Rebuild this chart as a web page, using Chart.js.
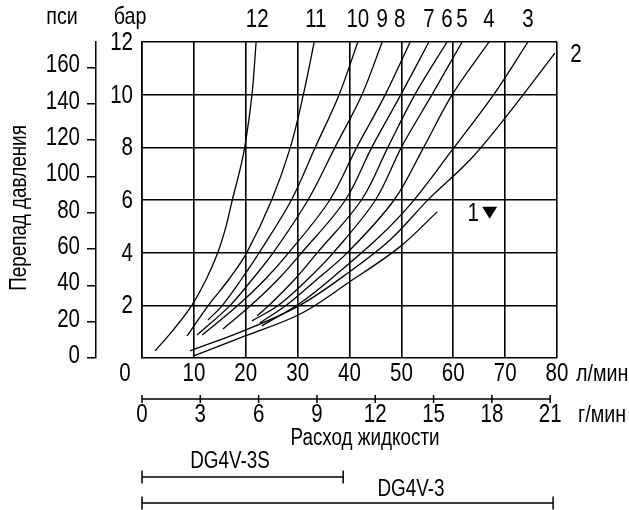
<!DOCTYPE html>
<html>
<head>
<meta charset="utf-8">
<script src="https://cdn.jsdelivr.net/npm/chart.js@4.4.1/dist/chart.umd.min.js"></script>
<style>
html,body{margin:0;padding:0;background:#fff}
#wrap{position:relative;width:629px;height:510px}
</style>
</head>
<body>
<div id="wrap"><canvas id="chart"></canvas></div>
<script>
// tick labels
const lpmTicks=[0,10,20,30,40,50,60,70,80];
const barTicks=[0,2,4,6,8,10,12];
const psiTicks=[0,20,40,60,80,100,120,140,160];
const gpmTicks=[0,3,6,9,12,15,18,21];
const gpmAxisMax=21.35;      // value of the lower flow scale under 80 l/min
const psiPerBar=14.5038;

// pressure drop curves: flow (l/min) and pressure drop (bar)
const c1Flow=[10.0,19.9,30.5,39.7,49.7,56.9];
const c1Bar =[0.08,0.84,1.67,2.85,4.22,5.55];
const c2Flow=[9.25,19.9,30.5,39.7,47.8,55.5,63.2,70.0,79.6];
const c2Bar =[0.27,1.06,2.01,3.23,4.48,6.08,7.52,9.12,11.58];
const c3Flow=[23.1,30.8,38.2,45.9,52.1,59.8,67.9,74.4];
const c3Bar =[1.22,2.13,3.30,4.63,5.92,7.90,10.03,12.0];
const c4Flow=[22.7,27.8,33.8,39.6,48.6,54.3,59.8,66.9];
const c4Bar =[1.33,2,3,4,6,8,10,12];
const c5Flow=[21.2,26.3,32.0,36.9,45.0,50.0,55.9,61.7];
const c5Bar =[1.41,2,3,4,6,8,10,12];
const c6Flow=[22.2,24.5,29.5,33.8,42.3,47.4,52.6,58.8];
const c6Bar =[1.6,2,3,4,6,8,10,12];
const c7Flow=[15.6,21.0,26.3,30.8,39.2,44.3,49.9,55.3];
const c7Bar =[1.1,2,3,4,6,8,10,12];
const c8Flow=[11.6,18.5,23.8,28.3,36.2,41.4,46.9,51.7];
const c8Bar =[0.87,2,3,4,6,8,10,12];
const c9Flow=[10.6,17.0,21.3,25.3,32.0,37.2,42.4,46.3];
const c9Bar =[0.87,2,3,4,6,8,10,12];
const c10Flow=[12.7,15.5,19.2,22.6,28.8,33.4,38.0,41.6];
const c10Bar =[1.44,2,3,4,6,8,10,12];
const c11Flow=[8.7,12.8,16.8,20.2,25.0,28.6,31.1,33.2];
const c11Bar =[0.84,2,3,4,6,8,10,12];
const c12Flow=[2.5,6.0,9.6,12.4,14.6,16.2,17.4,18.7,19.8,21.2,22.0];
const c12Bar =[0.27,1.06,2,3,4,5,6,7,8,10,12];

const curveNames=['1','2','3','4','5','6','7','8','9','10','11','12'];
const curveFlows=[c1Flow,c2Flow,c3Flow,c4Flow,c5Flow,c6Flow,c7Flow,c8Flow,c9Flow,c10Flow,c11Flow,c12Flow];
const curveBars=[c1Bar,c2Bar,c3Bar,c4Bar,c5Bar,c6Bar,c7Bar,c8Bar,c9Bar,c10Bar,c11Bar,c12Bar];

// rated flow of the valves (gpm)
const ratedNames=['DG4V-3S','DG4V-3'];
const ratedGpm=[10.35,21.15];

// narrow lettering: Liberation Sans squeezed horizontally
const FONT='"Liberation Sans",Arial,sans-serif';
function txt(ctx,s,x,y,size,align){
  ctx.save();
  ctx.translate(x,y);ctx.scale(0.82,1);
  ctx.font=size+'px '+FONT;
  ctx.textAlign=align||'center';
  ctx.textBaseline='middle';
  ctx.fillText(String(s),0,0);
  ctx.restore();
}

const extras={
  id:'extras',
  afterDraw(chart){
    const ctx=chart.ctx, xs=chart.scales.x, ys=chart.scales.y, gs=chart.scales.gpm, ps=chart.scales.psi;
    ctx.save();
    ctx.fillStyle='#000';ctx.strokeStyle='#000';

    // tick labels
    lpmTicks.filter(v=>v>0).forEach(v=>txt(ctx,v,xs.getPixelForValue(v),374,25));
    barTicks.filter(v=>v>0).forEach(v=>txt(ctx,v,133,ys.getPixelForValue(v)+1,25,'right'));
    psiTicks.forEach(v=>txt(ctx,v,80,ps.getPixelForValue(v)-2,25,'right'));
    gpmTicks.forEach(v=>txt(ctx,v,gs.getPixelForValue(v),415,25));
    txt(ctx,'0',xs.left-17,374,25);

    txt(ctx,'пси',62,17,24);
    txt(ctx,'бар',130,17,24);
    ctx.save();
    ctx.translate(20,208);ctx.rotate(-Math.PI/2);
    txt(ctx,'Перепад давления',0,0,23);
    ctx.restore();

    // curve numbers
    const nudge={'8':-2,'12':0.2,'11':0.3};
    chart.data.datasets.forEach(ds=>{
      const last=ds.data[ds.data.length-1];
      const px=xs.getPixelForValue(last.x), py=ys.getPixelForValue(last.y);
      if(ds.label==='2'){
        txt(ctx,'2',px+21,py+2,25);
      }else if(ds.label==='1'){
        txt(ctx,'1',px+36,py+2,25);
        ctx.beginPath();
        ctx.moveTo(px+45,py-5);ctx.lineTo(px+60,py-5);ctx.lineTo(px+52.5,py+7);
        ctx.closePath();ctx.fill();
      }else{
        txt(ctx,ds.label,xs.getPixelForValue(last.x+(nudge[ds.label]||0)),20,25);
      }
    });

    // units
    txt(ctx,'л/мин',576,374,24,'left');
    txt(ctx,'г/мин',578,415,24,'left');

    // lower flow axis
    const gy=gs.top;
    ctx.lineWidth=1.5;
    ctx.beginPath();
    ctx.moveTo(gs.getPixelForValue(0),gy);ctx.lineTo(gs.getPixelForValue(21),gy);
    gpmTicks.forEach(v=>{const x=gs.getPixelForValue(v);ctx.moveTo(x,gy-4);ctx.lineTo(x,gy+4);});
    ctx.stroke();
    txt(ctx,'Расход жидкости',365,439,23);

    // rated flow ranges
    const rows=[{ty:462,ly:477,tx:230},{ty:490,ly:503,tx:411}];
    ratedNames.forEach((n,i)=>{
      const r=rows[i], x0=gs.getPixelForValue(0), x1=gs.getPixelForValue(ratedGpm[i]);
      txt(ctx,n,r.tx,r.ty,23);
      ctx.beginPath();
      ctx.moveTo(x0,r.ly);ctx.lineTo(x1,r.ly);
      ctx.moveTo(x0,r.ly-6.5);ctx.lineTo(x0,r.ly+6.5);
      ctx.moveTo(x1,r.ly-6.5);ctx.lineTo(x1,r.ly+6.5);
      ctx.stroke();
    });
    ctx.restore();
  }
};

const datasets=curveNames.map((n,i)=>({
  label:n,
  data:curveFlows[i].map((f,j)=>({x:f,y:curveBars[i][j]})),
  borderColor:'#000',borderWidth:1.3,pointRadius:0,fill:false,
  tension:0.35
}));

const noTicks={display:false};

new Chart(document.getElementById('chart'),{
  type:'line',
  data:{datasets},
  options:{
    responsive:true,maintainAspectRatio:false,animation:false,
    layout:{padding:{top:42,right:72,left:0,bottom:0}},
    plugins:{legend:{display:false},tooltip:{enabled:false}},
    scales:{
      x:{type:'linear',position:'bottom',weight:0,min:0,max:80,
        afterBuildTicks:s=>{s.ticks=lpmTicks.map(v=>({value:v}));},
        afterFit:s=>{s.height=41;},
        grid:{color:'#000',lineWidth:1.6,drawTicks:false},
        border:{display:false},
        ticks:noTicks},
      gpm:{type:'linear',position:'bottom',weight:1,min:0,max:gpmAxisMax,
        afterBuildTicks:s=>{s.ticks=gpmTicks.map(v=>({value:v}));},
        afterFit:s=>{s.height=111;},
        grid:{display:false},
        border:{display:false},
        ticks:noTicks},
      y:{type:'linear',position:'left',weight:0,min:0,max:12,
        afterBuildTicks:s=>{s.ticks=barTicks.map(v=>({value:v}));},
        afterFit:s=>{s.width=46;},
        grid:{color:'#000',lineWidth:1.6,drawTicks:false},
        border:{display:true,color:'#000',width:1.6},
        ticks:noTicks},
      psi:{type:'linear',position:'left',weight:1,min:0,max:12*psiPerBar,
        afterBuildTicks:s=>{s.ticks=psiTicks.map(v=>({value:v}));},
        afterFit:s=>{s.width=96;},
        grid:{display:true,drawOnChartArea:false,drawTicks:true,tickLength:9,color:'#000',lineWidth:1.5},
        border:{display:true,color:'#000',width:1.5},
        ticks:noTicks}
    }
  },
  plugins:[extras]
});
</script>
</body>
</html>
